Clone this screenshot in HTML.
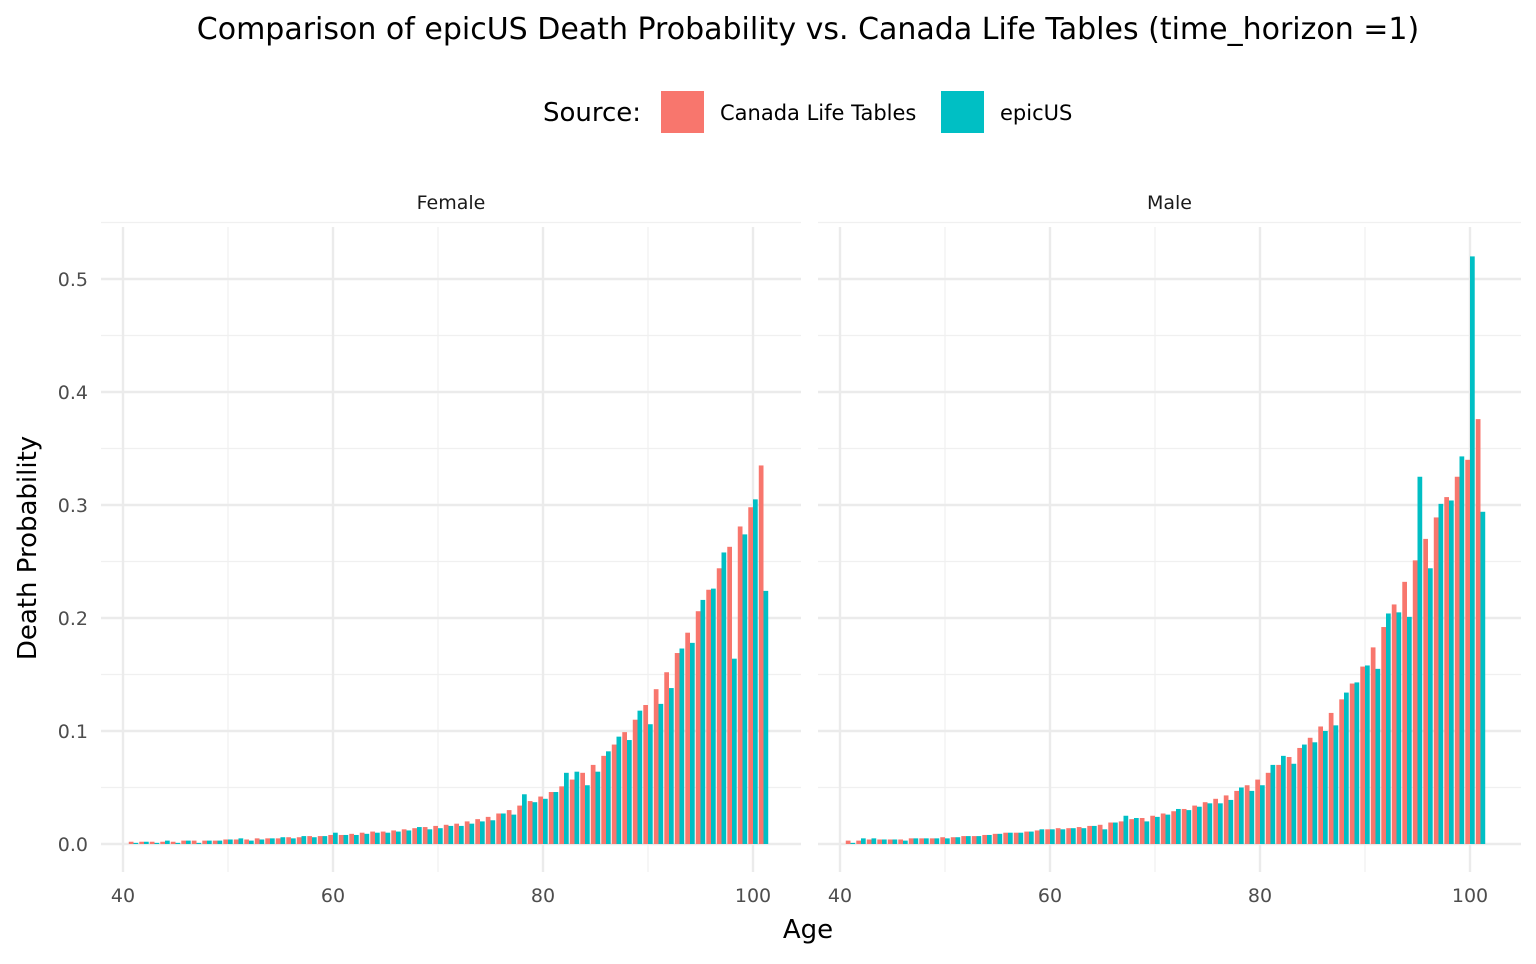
<!DOCTYPE html>
<html><head><meta charset="utf-8"><style>
body{margin:0;background:#fff;font-family:"DejaVu Sans","Liberation Sans",sans-serif}
svg text{font-family:"DejaVu Sans","Liberation Sans",sans-serif}
</style></head><body>
<svg id="chart" width="1536" height="960" xmlns="http://www.w3.org/2000/svg">
<text x="808" y="39" font-size="30" text-anchor="middle" fill="#000">Comparison of epicUS Death Probability vs. Canada Life Tables (time_horizon =1)</text>
<g>
<text x="543" y="121" font-size="26" fill="#000">Source:</text>
<rect x="661" y="91" width="43" height="42" fill="#F8766D"/>
<text x="720" y="120" font-size="21" fill="#000">Canada Life Tables</text>
<rect x="941" y="91" width="43" height="42" fill="#00BFC4"/>
<text x="1000" y="120" font-size="21" fill="#000">epicUS</text>
</g>
<text x="808" y="938" font-size="26" text-anchor="middle" fill="#000">Age</text>
<text transform="translate(36,548) rotate(-90)" font-size="26" text-anchor="middle" fill="#000">Death Probability</text>
<g id="plots"></g>
</svg>
<script>
const ages=[41,42,43,44,45,46,47,48,49,50,51,52,53,54,55,56,57,58,59,60,61,62,63,64,65,66,67,68,69,70,71,72,73,74,75,76,77,78,79,80,81,82,83,84,85,86,87,88,89,90,91,92,93,94,95,96,97,98,99,100,101];
const femaleCanada=[.002,.002,.002,.002,.002,.003,.003,.003,.003,.004,.004,.004,.005,.005,.005,.006,.006,.007,.007,.008,.008,.009,.010,.011,.011,.012,.013,.014,.015,.016,.017,.018,.020,.022,.024,.027,.030,.034,.038,.042,.046,.051,.057,.063,.070,.078,.088,.099,.110,.123,.137,.152,.169,.187,.206,.225,.244,.263,.281,.298,.335];
const femaleEpic=[.001,.002,.001,.003,.001,.003,.001,.003,.003,.004,.005,.003,.004,.005,.006,.005,.007,.006,.007,.010,.008,.008,.009,.010,.010,.011,.012,.015,.013,.014,.016,.016,.018,.020,.021,.027,.026,.044,.037,.040,.046,.063,.064,.052,.064,.082,.095,.092,.118,.106,.124,.138,.173,.178,.216,.226,.258,.164,.274,.305,.224];
const maleCanada=[.003,.003,.004,.004,.004,.004,.005,.005,.005,.006,.006,.007,.007,.008,.009,.010,.010,.011,.012,.013,.014,.014,.015,.016,.017,.019,.020,.022,.023,.025,.027,.029,.031,.034,.037,.040,.043,.047,.052,.057,.063,.070,.077,.085,.094,.104,.116,.128,.142,.157,.174,.192,.212,.232,.251,.270,.289,.307,.325,.340,.376];
const maleEpic=[.001,.005,.005,.004,.004,.003,.005,.005,.005,.005,.006,.007,.007,.008,.009,.010,.010,.011,.013,.013,.013,.014,.014,.016,.013,.019,.025,.023,.020,.024,.026,.031,.030,.033,.036,.036,.039,.050,.047,.052,.070,.078,.071,.088,.090,.100,.105,.134,.143,.158,.155,.204,.205,.201,.325,.244,.301,.304,.343,.520,.294];
const xTicks=[40,60,80,100];
const yTicks=[0,0.1,0.2,0.3,0.4,0.5];
const yTickLabels=["0.0","0.1","0.2","0.3","0.4","0.5"];
const panels=[{name:"Female",x0:101,x1:801,a:femaleCanada,b:femaleEpic},{name:"Male",x0:818,x1:1521,a:maleCanada,b:maleEpic}];
const NS="http://www.w3.org/2000/svg";
const g=document.getElementById('plots');
const yTop=227,yBot=872;
function yScale(v){return 844-v*1130;}
function mk(t,attrs,parent){const e=document.createElementNS(NS,t);for(const k in attrs)e.setAttribute(k,attrs[k]);(parent||g).appendChild(e);return e;}
panels.forEach((p,pi)=>{
  const xs=v=>p.x0+22+(v-40)*10.5;
  const pg=mk('g',{});
  
  
  // minor grid
  for(let v=0.05;v<0.55;v+=0.1){const l=mk('line',{x1:p.x0,x2:p.x1,y1:yScale(v),y2:yScale(v),stroke:'#f0f0f0','stroke-width':1.2},pg);}
  for(let v=30;v<=110;v+=20){const x=xs(v);if(x<p.x0||x>p.x1)continue;const l=mk('line',{x1:x,x2:x,y1:yTop,y2:yBot,stroke:'#f0f0f0','stroke-width':1.2},pg);}
  yTicks.forEach((v,i)=>{const l=mk('line',{x1:p.x0,x2:p.x1,y1:yScale(v),y2:yScale(v),stroke:'#ebebeb','stroke-width':2.4},pg);
    if(pi===0){const t=mk('text',{x:88,y:yScale(v)+7,'font-size':19,'text-anchor':'end',fill:'#4d4d4d'},pg);t.textContent=yTickLabels[i];}});
  xTicks.forEach(v=>{const x=xs(v);const l=mk('line',{x1:x,x2:x,y1:yTop,y2:yBot,stroke:'#ebebeb','stroke-width':2.4},pg);
    const t=mk('text',{x:x,y:902,'font-size':19,'text-anchor':'middle',fill:'#4d4d4d'},pg);t.textContent=v;});
  const st=mk('text',{x:(p.x0+p.x1)/2,y:209,'font-size':19,'text-anchor':'middle',fill:'#1a1a1a'},pg);st.textContent=p.name;
  const w=10.5*0.45;
  ages.forEach((age,i)=>{
    const c=xs(age);
    const r1=mk('rect',{x:c-w,y:yScale(p.a[i]),width:w,height:844-yScale(p.a[i]),fill:'#F8766D'},pg);
    
    
    const r2=mk('rect',{x:c,y:yScale(p.b[i]),width:w,height:844-yScale(p.b[i]),fill:'#00BFC4'},pg);
    
    
  });
});
</script>
</body></html>
